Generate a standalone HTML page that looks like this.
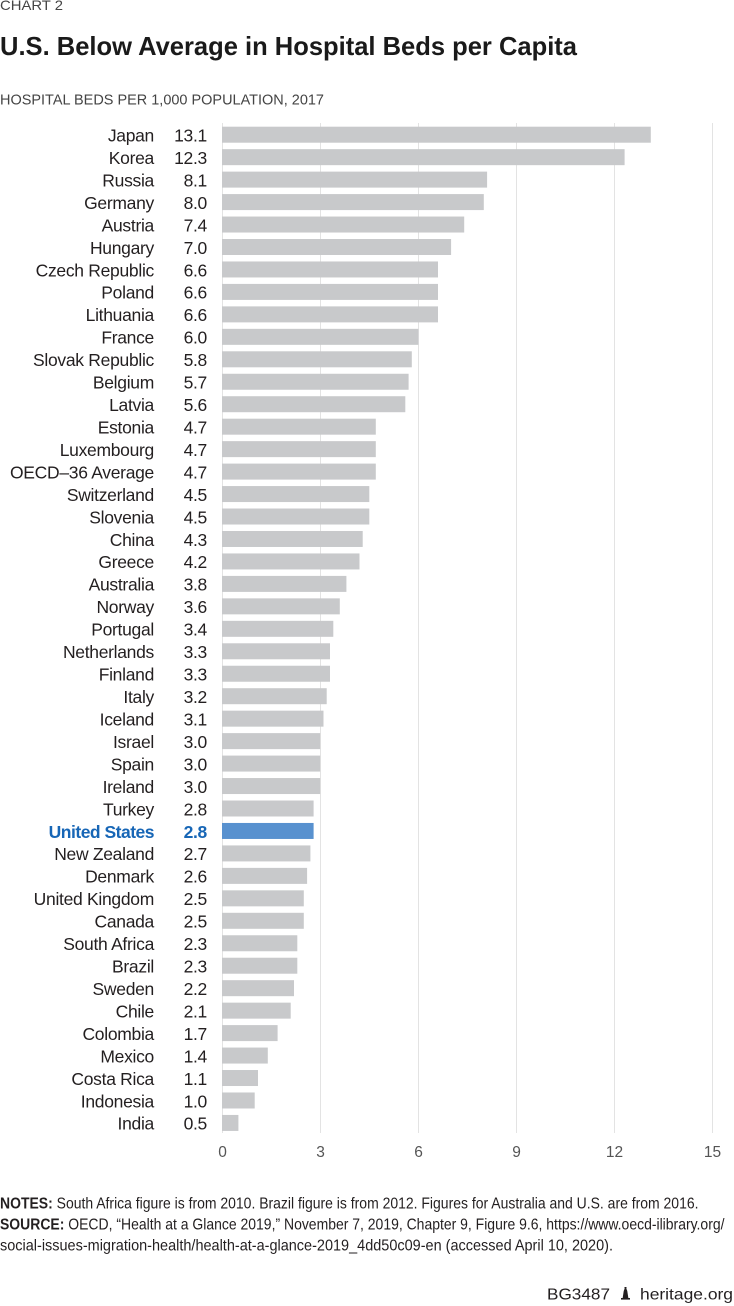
<!DOCTYPE html>
<html>
<head>
<meta charset="utf-8">
<style>
  html,body{margin:0;padding:0;background:#fff;}
  svg{display:block;}
  text{font-family:"Liberation Sans",Arial,sans-serif;}
</style>
</head>
<body>
<svg width="734" height="1306" viewBox="0 0 734 1306" xmlns="http://www.w3.org/2000/svg">
  <rect width="734" height="1306" fill="#fff"/>
  <!-- header -->
  <text x="0" y="10" font-size="14" fill="#444" textLength="63" lengthAdjust="spacingAndGlyphs">CHART 2</text>
  <text x="0" y="55" font-size="26" font-weight="bold" fill="#1a1a1a" textLength="577" lengthAdjust="spacingAndGlyphs">U.S. Below Average in Hospital Beds per Capita</text>
  <text x="0" y="104.3" font-size="14.5" fill="#444" textLength="324" lengthAdjust="spacingAndGlyphs">HOSPITAL BEDS PER 1,000 POPULATION, 2017</text>

  <!-- gridlines -->
  <g stroke="#e3e3e3" stroke-width="1">
    <line x1="222.5" y1="123" x2="222.5" y2="1133"/>
    <line x1="320.5" y1="123" x2="320.5" y2="1133"/>
    <line x1="418.5" y1="123" x2="418.5" y2="1133"/>
    <line x1="516.5" y1="123" x2="516.5" y2="1133"/>
    <line x1="614.5" y1="123" x2="614.5" y2="1133"/>
    <line x1="712.5" y1="123" x2="712.5" y2="1133"/>
  </g>

  <!-- bars -->
  <g fill="#c8c9cb">
    <rect x="222" y="126.7" width="428.8" height="16"/>
    <rect x="222" y="149.16" width="402.6" height="16"/>
    <rect x="222" y="171.62" width="265.1" height="16"/>
    <rect x="222" y="194.08" width="261.8" height="16"/>
    <rect x="222" y="216.54" width="242.2" height="16"/>
    <rect x="222" y="239.0" width="229.1" height="16"/>
    <rect x="222" y="261.46" width="216.0" height="16"/>
    <rect x="222" y="283.92" width="216.0" height="16"/>
    <rect x="222" y="306.38" width="216.0" height="16"/>
    <rect x="222" y="328.84" width="196.4" height="16"/>
    <rect x="222" y="351.3" width="189.8" height="16"/>
    <rect x="222" y="373.76" width="186.6" height="16"/>
    <rect x="222" y="396.22" width="183.3" height="16"/>
    <rect x="222" y="418.68" width="153.8" height="16"/>
    <rect x="222" y="441.14" width="153.8" height="16"/>
    <rect x="222" y="463.6" width="153.8" height="16"/>
    <rect x="222" y="486.06" width="147.3" height="16"/>
    <rect x="222" y="508.52" width="147.3" height="16"/>
    <rect x="222" y="530.98" width="140.7" height="16"/>
    <rect x="222" y="553.44" width="137.5" height="16"/>
    <rect x="222" y="575.9" width="124.4" height="16"/>
    <rect x="222" y="598.36" width="117.8" height="16"/>
    <rect x="222" y="620.82" width="111.3" height="16"/>
    <rect x="222" y="643.28" width="108.0" height="16"/>
    <rect x="222" y="665.74" width="108.0" height="16"/>
    <rect x="222" y="688.2" width="104.7" height="16"/>
    <rect x="222" y="710.66" width="101.5" height="16"/>
    <rect x="222" y="733.12" width="98.2" height="16"/>
    <rect x="222" y="755.58" width="98.2" height="16"/>
    <rect x="222" y="778.04" width="98.2" height="16"/>
    <rect x="222" y="800.5" width="91.6" height="16"/>
    <rect x="222" y="845.42" width="88.4" height="16"/>
    <rect x="222" y="867.88" width="85.1" height="16"/>
    <rect x="222" y="890.34" width="81.8" height="16"/>
    <rect x="222" y="912.8" width="81.8" height="16"/>
    <rect x="222" y="935.26" width="75.3" height="16"/>
    <rect x="222" y="957.72" width="75.3" height="16"/>
    <rect x="222" y="980.18" width="72.0" height="16"/>
    <rect x="222" y="1002.64" width="68.7" height="16"/>
    <rect x="222" y="1025.1" width="55.6" height="16"/>
    <rect x="222" y="1047.56" width="45.8" height="16"/>
    <rect x="222" y="1070.02" width="36.0" height="16"/>
    <rect x="222" y="1092.48" width="32.7" height="16"/>
    <rect x="222" y="1114.94" width="16.4" height="16"/>
  </g>
  <rect x="222" y="822.96" width="91.6" height="16" fill="#5891cf"/>

  <!-- country labels -->
  <g font-size="17.5" fill="#231f20" text-anchor="end" letter-spacing="-0.3">
    <text x="154" y="141.5">Japan</text>
    <text x="154" y="163.96">Korea</text>
    <text x="154" y="186.42">Russia</text>
    <text x="154" y="208.88">Germany</text>
    <text x="154" y="231.34">Austria</text>
    <text x="154" y="253.8">Hungary</text>
    <text x="154" y="276.26">Czech Republic</text>
    <text x="154" y="298.72">Poland</text>
    <text x="154" y="321.18">Lithuania</text>
    <text x="154" y="343.64">France</text>
    <text x="154" y="366.1">Slovak Republic</text>
    <text x="154" y="388.56">Belgium</text>
    <text x="154" y="411.02">Latvia</text>
    <text x="154" y="433.48">Estonia</text>
    <text x="154" y="455.94">Luxembourg</text>
    <text x="154" y="478.4">OECD–36 Average</text>
    <text x="154" y="500.86">Switzerland</text>
    <text x="154" y="523.32">Slovenia</text>
    <text x="154" y="545.78">China</text>
    <text x="154" y="568.24">Greece</text>
    <text x="154" y="590.7">Australia</text>
    <text x="154" y="613.16">Norway</text>
    <text x="154" y="635.62">Portugal</text>
    <text x="154" y="658.08">Netherlands</text>
    <text x="154" y="680.54">Finland</text>
    <text x="154" y="703.0">Italy</text>
    <text x="154" y="725.46">Iceland</text>
    <text x="154" y="747.92">Israel</text>
    <text x="154" y="770.38">Spain</text>
    <text x="154" y="792.84">Ireland</text>
    <text x="154" y="815.3">Turkey</text>
    <text x="154" y="837.76" fill="#1766b6" font-weight="bold" letter-spacing="-0.5">United States</text>
    <text x="154" y="860.22">New Zealand</text>
    <text x="154" y="882.68">Denmark</text>
    <text x="154" y="905.14">United Kingdom</text>
    <text x="154" y="927.6">Canada</text>
    <text x="154" y="950.06">South Africa</text>
    <text x="154" y="972.52">Brazil</text>
    <text x="154" y="994.98">Sweden</text>
    <text x="154" y="1017.44">Chile</text>
    <text x="154" y="1039.9">Colombia</text>
    <text x="154" y="1062.36">Mexico</text>
    <text x="154" y="1084.82">Costa Rica</text>
    <text x="154" y="1107.28">Indonesia</text>
    <text x="154" y="1129.74">India</text>
  </g>

  <!-- value labels -->
  <g font-size="17.5" fill="#231f20" text-anchor="end" letter-spacing="-0.3">
    <text x="207" y="141.5">13.1</text>
    <text x="207" y="163.96">12.3</text>
    <text x="207" y="186.42">8.1</text>
    <text x="207" y="208.88">8.0</text>
    <text x="207" y="231.34">7.4</text>
    <text x="207" y="253.8">7.0</text>
    <text x="207" y="276.26">6.6</text>
    <text x="207" y="298.72">6.6</text>
    <text x="207" y="321.18">6.6</text>
    <text x="207" y="343.64">6.0</text>
    <text x="207" y="366.1">5.8</text>
    <text x="207" y="388.56">5.7</text>
    <text x="207" y="411.02">5.6</text>
    <text x="207" y="433.48">4.7</text>
    <text x="207" y="455.94">4.7</text>
    <text x="207" y="478.4">4.7</text>
    <text x="207" y="500.86">4.5</text>
    <text x="207" y="523.32">4.5</text>
    <text x="207" y="545.78">4.3</text>
    <text x="207" y="568.24">4.2</text>
    <text x="207" y="590.7">3.8</text>
    <text x="207" y="613.16">3.6</text>
    <text x="207" y="635.62">3.4</text>
    <text x="207" y="658.08">3.3</text>
    <text x="207" y="680.54">3.3</text>
    <text x="207" y="703.0">3.2</text>
    <text x="207" y="725.46">3.1</text>
    <text x="207" y="747.92">3.0</text>
    <text x="207" y="770.38">3.0</text>
    <text x="207" y="792.84">3.0</text>
    <text x="207" y="815.3">2.8</text>
    <text x="207" y="837.76" fill="#1766b6" font-weight="bold">2.8</text>
    <text x="207" y="860.22">2.7</text>
    <text x="207" y="882.68">2.6</text>
    <text x="207" y="905.14">2.5</text>
    <text x="207" y="927.6">2.5</text>
    <text x="207" y="950.06">2.3</text>
    <text x="207" y="972.52">2.3</text>
    <text x="207" y="994.98">2.2</text>
    <text x="207" y="1017.44">2.1</text>
    <text x="207" y="1039.9">1.7</text>
    <text x="207" y="1062.36">1.4</text>
    <text x="207" y="1084.82">1.1</text>
    <text x="207" y="1107.28">1.0</text>
    <text x="207" y="1129.74">0.5</text>
  </g>

  <!-- tick labels -->
  <g font-size="15.5" fill="#555" text-anchor="middle">
    <text x="222.5" y="1157">0</text>
    <text x="320.5" y="1157">3</text>
    <text x="418.5" y="1157">6</text>
    <text x="516.5" y="1157">9</text>
    <text x="614.5" y="1157">12</text>
    <text x="712.5" y="1157">15</text>
  </g>

  <!-- notes -->
  <g font-size="16" fill="#231f20">
    <text x="0" y="1208.3" textLength="698.5" lengthAdjust="spacingAndGlyphs"><tspan font-weight="bold">NOTES:</tspan> South Africa figure is from 2010. Brazil figure is from 2012. Figures for Australia and U.S. are from 2016.</text>
    <text x="0" y="1229.3" textLength="724.5" lengthAdjust="spacingAndGlyphs"><tspan font-weight="bold">SOURCE:</tspan> OECD, “Health at a Glance 2019,” November 7, 2019, Chapter 9, Figure 9.6, https://www.oecd-ilibrary.org/</text>
    <text x="0" y="1250.3" textLength="613" lengthAdjust="spacingAndGlyphs">social-issues-migration-health/health-at-a-glance-2019_4dd50c09-en (accessed April 10, 2020).</text>
  </g>

  <!-- footer -->
  <g font-size="16" fill="#231f20">
    <text x="547" y="1299.5" textLength="63" lengthAdjust="spacingAndGlyphs">BG3487</text>
    <text x="640" y="1299.5" textLength="93" lengthAdjust="spacingAndGlyphs">heritage.org</text>
  </g>
  <!-- bell icon -->
  <g fill="#231f20">
    <path d="M622.5 1299 L623.5 1292.5 Q624 1288.5 625.5 1288.5 Q627 1288.5 627.5 1292.5 L628.5 1299 Z"/>
    <rect x="621" y="1298" width="9" height="1.6"/>
    <rect x="624.5" y="1287" width="2" height="1.8"/>
  </g>
</svg>
</body>
</html>
